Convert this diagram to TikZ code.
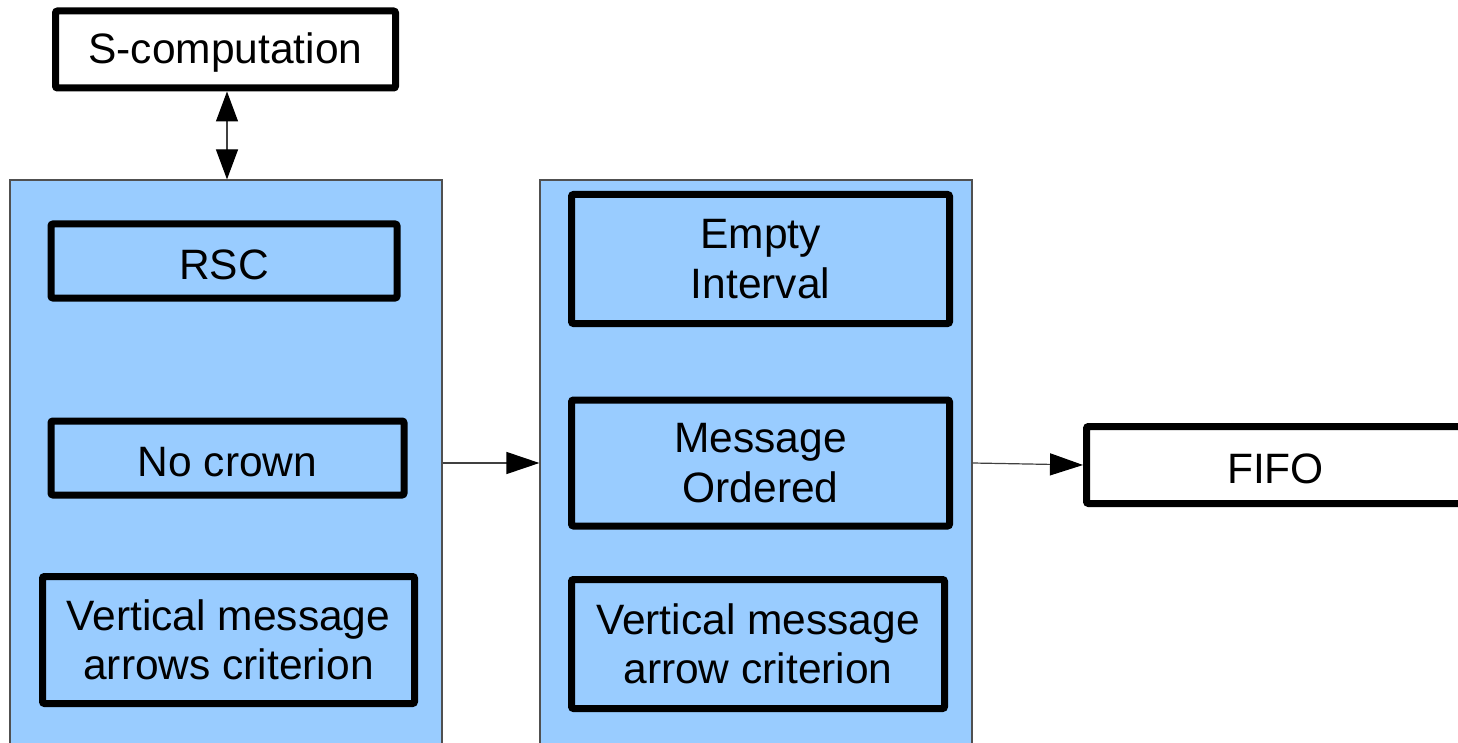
\documentclass[tikz,border=0pt]{standalone}
\usepackage{fontspec}
\setmainfont{Liberation Sans}
\usetikzlibrary{arrows.meta}
\definecolor{panelblue}{HTML}{99CCFF}
\definecolor{panelline}{HTML}{505050}
\tikzset{
  panel/.style={draw=panelline, line width=1.2pt, fill=panelblue, inner sep=0pt},
  crit/.style={draw=black, line width=7pt, rounded corners=2pt, inner sep=0pt,
    align=center, font=\fontsize{42.5}{49.5}\selectfont,
    execute at begin node=\rule{0pt}{37pt}},
  flow/.style={draw=black!75, line width=1.2pt,
    -{Triangle[length=33pt, width=22pt, color=black]}},
  link/.style={draw=black!75, line width=1.2pt,
    {Triangle[length=30pt, width=22pt, color=black]}-{Triangle[length=30pt, width=22pt, color=black]}}
}
\begin{document}
\begin{tikzpicture}[x=1pt, y=-1pt]
  \clip (0,0) rectangle (1458,743);
  \fill[white] (0,0) rectangle (1458,743);

  % the two grouping panels
  \node[panel, minimum width=432pt, minimum height=566pt] (left) at (226,463) {};
  \node[panel, minimum width=432pt, minimum height=566pt] (mid) at (756,463) {};

  % top and right boxes
  \node[crit, fill=white, minimum width=340pt, minimum height=77pt] (scomp) at (225.5,49.5) {S-computation};
  \node[crit, fill=white, minimum width=400pt, minimum height=77pt, text width=380pt] (fifo) at (1286.5,465) {\hspace*{-22pt}FIFO};

  % criteria in the left panel
  \node[crit, minimum width=346pt, minimum height=74pt] (rsc) at (224,261) {RSC};
  \node[crit, minimum width=353pt, minimum height=74pt] (crown) at (227.5,458) {No crown};
  \node[crit, minimum width=372pt, minimum height=127pt] (varrows) at (228.5,640) {Vertical message\\arrows criterion};

  % criteria in the middle panel
  \node[crit, minimum width=378pt, minimum height=129pt] (empty) at (760.5,259) {Empty\\Interval};
  \node[crit, minimum width=378pt, minimum height=126pt] (ordered) at (760.5,463) {Message\\Ordered};
  \node[crit, minimum width=373pt, minimum height=129pt] (varrow) at (758,644) {Vertical message\\arrow criterion};

  % connectors
  \draw[link] ([xshift=1.5pt]scomp.south) -- ([xshift=1pt]left.north);
  \draw[flow] (left.east) -- (mid.west);
  \draw[flow] (mid.east) -- (fifo.west);
\end{tikzpicture}
\end{document}
